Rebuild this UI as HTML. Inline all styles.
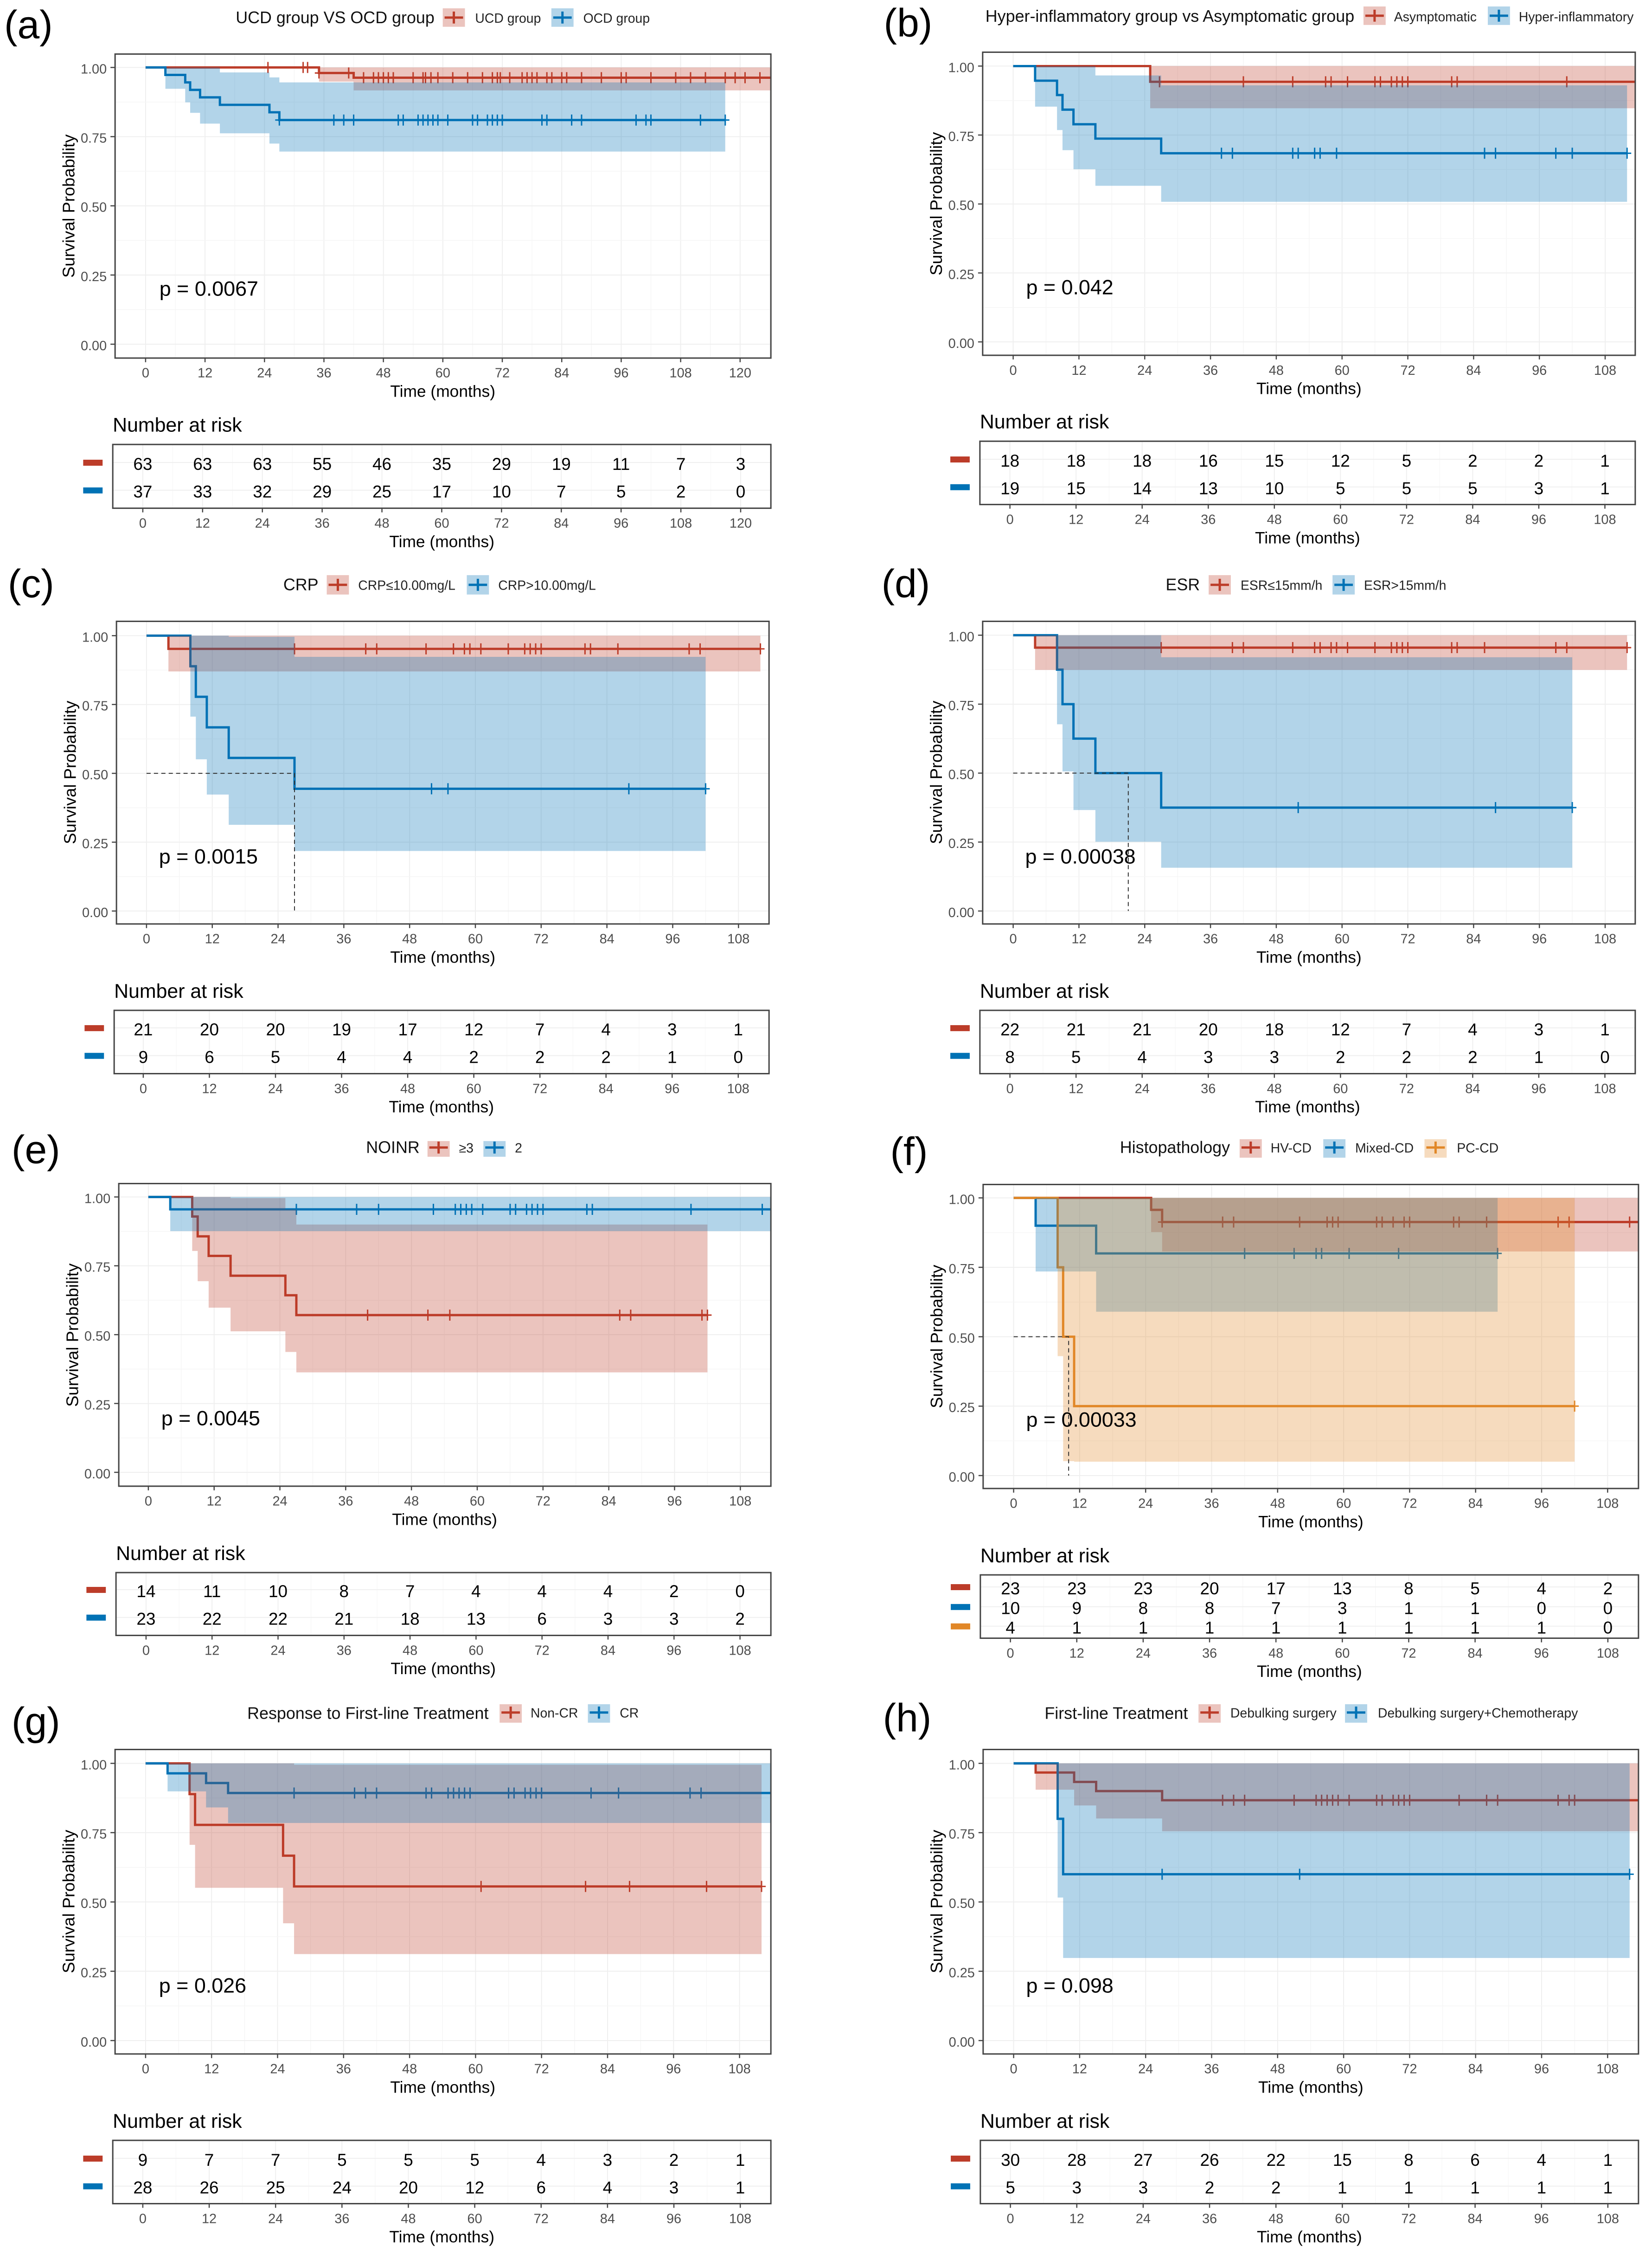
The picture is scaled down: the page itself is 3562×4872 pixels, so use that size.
<!DOCTYPE html>
<html lang="en">
<head>
<meta charset="utf-8">
<title>Kaplan-Meier survival panels</title>
<style>
html,body{margin:0;padding:0;background:#fff}
svg{display:block}
text{font-family:"Liberation Sans","Noto Sans CJK SC",sans-serif;fill:#000}
.lt{font-size:36px;fill:#111}
.ll{font-size:28.5px;fill:#222}
.at{font-size:35.5px;fill:#000}
.yt{font-size:36.5px;fill:#000}
.rt{font-size:43px;fill:#000}
.pv{font-size:45px;fill:#000}
.pl{font-size:86px;fill:#000}
</style>
</head>
<body>
<svg id="figure" xmlns="http://www.w3.org/2000/svg" width="3562" height="4872" viewBox="0 0 3562 4872">
<rect width="3562" height="4872" fill="#fff"/>

<g id="panel-a" transform="translate(0 0) scale(.9965 .996)">
<g id="marks-a"></g>
<text class="pl" x="9" y="83">(a)</text>
<text class="lt" x="510" y="50">UCD group VS OCD group</text>
<g><rect x="958" y="18" width="48" height="40" fill="#BC3C29" opacity=".3"/><path d="M962 38H1002M982 25V51" stroke="#BC3C29" stroke-width="5" fill="none"/></g>
<text class="ll" x="1028" y="49">UCD group</text>
<g><rect x="1193" y="18" width="48" height="40" fill="#0072B5" opacity=".3"/><path d="M1197 38H1237M1217 25V51" stroke="#0072B5" stroke-width="5" fill="none"/></g>
<text class="ll" x="1262" y="49">OCD group</text>
<text class="pv" x="345" y="640">p = 0.0067</text>
<text class="yt" x="161" y="446" text-anchor="middle" transform="rotate(-90 161 446)">Survival Probability</text>
<text class="at" x="958" y="859" text-anchor="middle">Time (months)</text>
<text class="rt" x="244" y="934">Number at risk</text>
<text class="at" x="956" y="1184" text-anchor="middle">Time (months)</text>
</g>

<g id="panel-b" transform="translate(1781 0) scale(.9965 .996) translate(-1781 0)">
<g id="marks-b"></g>
<text class="pl" x="1906" y="79">(b)</text>
<text class="lt" x="2126" y="47">Hyper-inflammatory group vs Asymptomatic group</text>
<g><rect x="2944" y="14" width="48" height="40" fill="#BC3C29" opacity=".3"/><path d="M2948 34H2988M2968 21V47" stroke="#BC3C29" stroke-width="5" fill="none"/></g>
<text class="ll" x="3010" y="46">Asymptomatic</text>
<g><rect x="3213" y="14" width="48" height="40" fill="#0072B5" opacity=".3"/><path d="M3217 34H3257M3237 21V47" stroke="#0072B5" stroke-width="5" fill="none"/></g>
<text class="ll" x="3280" y="46">Hyper-inflammatory</text>
<text class="pv" x="2214" y="637">p = 0.042</text>
<text class="yt" x="2032" y="441" text-anchor="middle" transform="rotate(-90 2032 441)">Survival Probability</text>
<text class="at" x="2826" y="853" text-anchor="middle">Time (months)</text>
<text class="rt" x="2114" y="927">Number at risk</text>
<text class="at" x="2823" y="1176" text-anchor="middle">Time (months)</text>
</g>

<g id="panel-c" transform="translate(0 1200) scale(.9965 .996) translate(0 -1200)">
<g id="marks-c"></g>
<text class="pl" x="17" y="1288">(c)</text>
<text class="lt" x="613" y="1273">CRP</text>
<g><rect x="707" y="1240" width="48" height="42" fill="#BC3C29" opacity=".3"/><path d="M711 1261H751M731 1248V1274" stroke="#BC3C29" stroke-width="5" fill="none"/></g>
<text class="ll" x="775" y="1272">CRP≤10.00mg/L</text>
<g><rect x="1010" y="1240" width="48" height="42" fill="#0072B5" opacity=".3"/><path d="M1014 1261H1054M1034 1248V1274" stroke="#0072B5" stroke-width="5" fill="none"/></g>
<text class="ll" x="1078" y="1272">CRP&gt;10.00mg/L</text>
<text class="pv" x="344" y="1864">p = 0.0015</text>
<text class="yt" x="164" y="1667" text-anchor="middle" transform="rotate(-90 164 1667)">Survival Probability</text>
<text class="at" x="958" y="2079" text-anchor="middle">Time (months)</text>
<text class="rt" x="247" y="2155">Number at risk</text>
<text class="at" x="955" y="2403" text-anchor="middle">Time (months)</text>
</g>

<g id="panel-d" transform="translate(1781 1200) scale(.9965 .996) translate(-1781 -1200)">
<g id="marks-d"></g>
<text class="pl" x="1901" y="1288">(d)</text>
<text class="lt" x="2516" y="1273">ESR</text>
<g><rect x="2609" y="1240" width="48" height="42" fill="#BC3C29" opacity=".3"/><path d="M2613 1261H2653M2633 1248V1274" stroke="#BC3C29" stroke-width="5" fill="none"/></g>
<text class="ll" x="2678" y="1272">ESR≤15mm/h</text>
<g><rect x="2877" y="1240" width="48" height="42" fill="#0072B5" opacity=".3"/><path d="M2881 1261H2921M2901 1248V1274" stroke="#0072B5" stroke-width="5" fill="none"/></g>
<text class="ll" x="2945" y="1272">ESR&gt;15mm/h</text>
<text class="pv" x="2212" y="1864">p = 0.00038</text>
<text class="yt" x="2032" y="1667" text-anchor="middle" transform="rotate(-90 2032 1667)">Survival Probability</text>
<text class="at" x="2826" y="2079" text-anchor="middle">Time (months)</text>
<text class="rt" x="2114" y="2155">Number at risk</text>
<text class="at" x="2823" y="2403" text-anchor="middle">Time (months)</text>
</g>

<g id="panel-e" transform="translate(0 2420) scale(.9965 .996) translate(0 -2420)">
<g id="marks-e"></g>
<text class="pl" x="25" y="2508">(e)</text>
<text class="lt" x="792" y="2486">NOINR</text>
<g><rect x="925" y="2460" width="48" height="34" fill="#BC3C29" opacity=".3"/><path d="M929 2474H969M949 2461V2487" stroke="#BC3C29" stroke-width="5" fill="none"/></g>
<text class="ll" x="993" y="2485">≥3</text>
<g><rect x="1046" y="2460" width="48" height="34" fill="#0072B5" opacity=".3"/><path d="M1050 2474H1090M1070 2461V2487" stroke="#0072B5" stroke-width="5" fill="none"/></g>
<text class="ll" x="1114" y="2485">2</text>
<text class="pv" x="349" y="3075">p = 0.0045</text>
<text class="yt" x="169" y="2880" text-anchor="middle" transform="rotate(-90 169 2880)">Survival Probability</text>
<text class="at" x="962" y="3291" text-anchor="middle">Time (months)</text>
<text class="rt" x="251" y="3367">Number at risk</text>
<text class="at" x="959" y="3614" text-anchor="middle">Time (months)</text>
</g>

<g id="panel-f" transform="translate(1781 2420) scale(.9965 .996) translate(-1781 -2420)">
<g id="marks-f"></g>
<text class="pl" x="1920" y="2512">(f)</text>
<text class="lt" x="2417" y="2486">Histopathology</text>
<g><rect x="2676" y="2456" width="48" height="40" fill="#BC3C29" opacity=".3"/><path d="M2680 2474H2720M2700 2461V2487" stroke="#BC3C29" stroke-width="5" fill="none"/></g>
<text class="ll" x="2743" y="2485">HV-CD</text>
<g><rect x="2857" y="2456" width="48" height="40" fill="#0072B5" opacity=".3"/><path d="M2861 2474H2901M2881 2461V2487" stroke="#0072B5" stroke-width="5" fill="none"/></g>
<text class="ll" x="2926" y="2485">Mixed-CD</text>
<g><rect x="3076" y="2456" width="48" height="40" fill="#E18727" opacity=".3"/><path d="M3080 2474H3120M3100 2461V2487" stroke="#E18727" stroke-width="5" fill="none"/></g>
<text class="ll" x="3146" y="2485">PC-CD</text>
<text class="pv" x="2214" y="3078">p = 0.00033</text>
<text class="yt" x="2033" y="2883" text-anchor="middle" transform="rotate(-90 2033 2883)">Survival Probability</text>
<text class="at" x="2830" y="3296" text-anchor="middle">Time (months)</text>
<text class="rt" x="2115" y="3372">Number at risk</text>
<text class="at" x="2827" y="3620" text-anchor="middle">Time (months)</text>
</g>

<g id="panel-g" transform="translate(0 3640) scale(.9965 .996) translate(0 -3640)">
<g id="marks-g"></g>
<text class="pl" x="25" y="3741">(g)</text>
<text class="lt" x="535" y="3706">Response to First-line Treatment</text>
<g><rect x="1081" y="3674" width="48" height="40" fill="#BC3C29" opacity=".3"/><path d="M1085 3692H1125M1105 3679V3705" stroke="#BC3C29" stroke-width="5" fill="none"/></g>
<text class="ll" x="1148" y="3703">Non-CR</text>
<g><rect x="1272" y="3674" width="48" height="40" fill="#0072B5" opacity=".3"/><path d="M1276 3692H1316M1296 3679V3705" stroke="#0072B5" stroke-width="5" fill="none"/></g>
<text class="ll" x="1341" y="3703">CR</text>
<text class="pv" x="344" y="4298">p = 0.026</text>
<text class="yt" x="161" y="4101" text-anchor="middle" transform="rotate(-90 161 4101)">Survival Probability</text>
<text class="at" x="958" y="4515" text-anchor="middle">Time (months)</text>
<text class="rt" x="244" y="4591">Number at risk</text>
<text class="at" x="956" y="4839" text-anchor="middle">Time (months)</text>
</g>

<g id="panel-h" transform="translate(1781 3640) scale(.9965 .996) translate(-1781 -3640)">
<g id="marks-h"></g>
<text class="pl" x="1904" y="3733">(h)</text>
<text class="lt" x="2254" y="3706">First-line Treatment</text>
<g><rect x="2587" y="3674" width="48" height="40" fill="#BC3C29" opacity=".3"/><path d="M2591 3692H2631M2611 3679V3705" stroke="#BC3C29" stroke-width="5" fill="none"/></g>
<text class="ll" x="2656" y="3703">Debulking surgery</text>
<g><rect x="2904" y="3674" width="48" height="40" fill="#0072B5" opacity=".3"/><path d="M2908 3692H2948M2928 3679V3705" stroke="#0072B5" stroke-width="5" fill="none"/></g>
<text class="ll" x="2975" y="3703">Debulking surgery+Chemotherapy</text>
<text class="pv" x="2214" y="4298">p = 0.098</text>
<text class="yt" x="2033" y="4101" text-anchor="middle" transform="rotate(-90 2033 4101)">Survival Probability</text>
<text class="at" x="2830" y="4515" text-anchor="middle">Time (months)</text>
<text class="rt" x="2115" y="4591">Number at risk</text>
<text class="at" x="2827" y="4839" text-anchor="middle">Time (months)</text>
</g>
</svg>

<script>
// ---- shared tick labels ----
const yTicks = [0, 0.25, 0.5, 0.75, 1];
const xTicks120 = [0, 12, 24, 36, 48, 60, 72, 84, 96, 108, 120];
const xTicks108 = [0, 12, 24, 36, 48, 60, 72, 84, 96, 108];

// ---- panel a ----
const aUcdTimes = [35, 42];
const aUcdSurv = [0.98, 0.963];
const aUcdLower = [0.949, 0.917];
const aUcdUpper = [1, 1];
const aUcdEnd = 130;
const aUcdCensor = [24.7, 31.8, 32.7, 35, 41, 44, 46, 47, 48, 49, 50, 54, 56, 56.5, 57.6, 59, 62, 65, 68, 70, 71, 71.6, 73.5, 76, 77, 78, 79, 81, 82, 84, 85, 88, 92, 96, 97, 102, 107, 110, 113, 117, 119, 121, 124];
const aOcdTimes = [4, 8, 9, 11, 15, 25, 27];
const aOcdSurv = [0.973, 0.946, 0.919, 0.892, 0.865, 0.838, 0.81];
const aOcdLower = [0.923, 0.874, 0.836, 0.797, 0.762, 0.725, 0.696];
const aOcdUpper = [1, 1, 1, 1, 0.982, 0.964, 0.946];
const aOcdEnd = 117;
const aOcdCensor = [27, 38, 40, 42, 51, 52, 55, 56, 57, 58, 59, 61, 66, 67, 69, 70, 71, 72, 80, 81, 86, 88, 99, 101, 102, 112, 117];
const aRiskUcd = [63, 63, 63, 55, 46, 35, 29, 19, 11, 7, 3];
const aRiskOcd = [37, 33, 32, 29, 25, 17, 10, 7, 5, 2, 0];

// ---- panel b ----
const bAsymTimes = [25];
const bAsymSurv = [0.943];
const bAsymLower = [0.847];
const bAsymUpper = [1];
const bAsymEnd = 118;
const bAsymCensor = [26.7, 42, 51, 57, 58, 61, 66, 67, 69, 70, 71, 72, 80, 81, 101];
const bHyperTimes = [4, 8, 9, 11, 15, 27];
const bHyperSurv = [0.947, 0.895, 0.842, 0.789, 0.737, 0.684];
const bHyperLower = [0.853, 0.768, 0.695, 0.626, 0.566, 0.508];
const bHyperUpper = [1, 1, 1, 1, 0.966, 0.93];
const bHyperEnd = 112;
const bHyperCensor = [38, 40, 51, 52, 55, 56, 59, 86, 88, 99, 102, 112];
const bRiskAsym = [18, 18, 18, 16, 15, 12, 5, 2, 2, 1];
const bRiskHyper = [19, 15, 14, 13, 10, 5, 5, 5, 3, 1];

// ---- panel c ----
const cLowTimes = [4];
const cLowSurv = [0.952];
const cLowLower = [0.87];
const cLowUpper = [1];
const cLowEnd = 112;
const cLowCensor = [27, 40, 42, 51, 56, 58, 59, 61, 66, 69, 70, 71, 72, 80, 81, 86, 99, 101, 112];
const cHighTimes = [8, 9, 11, 15, 27];
const cHighSurv = [0.889, 0.778, 0.667, 0.556, 0.444];
const cHighLower = [0.706, 0.551, 0.423, 0.313, 0.218];
const cHighUpper = [1, 1, 1, 0.996, 0.923];
const cHighEnd = 102;
const cHighCensor = [52, 55, 88, 102];
const cMedian = 27;
const cRiskLow = [21, 20, 20, 19, 17, 12, 7, 4, 3, 1];
const cRiskHigh = [9, 6, 5, 4, 4, 2, 2, 2, 1, 0];

// ---- panel d ----
const dLowTimes = [4];
const dLowSurv = [0.955];
const dLowLower = [0.874];
const dLowUpper = [1];
const dLowEnd = 112;
const dLowCensor = [27, 40, 42, 51, 55, 56, 58, 59, 61, 66, 69, 70, 71, 72, 80, 81, 86, 99, 101, 112];
const dHighTimes = [8, 9, 11, 15, 27];
const dHighSurv = [0.875, 0.75, 0.625, 0.5, 0.375];
const dHighLower = [0.677, 0.506, 0.366, 0.251, 0.157];
const dHighUpper = [1, 1, 1, 1, 0.92];
const dHighEnd = 102;
const dHighCensor = [52, 88, 102];
const dMedian = 21;
const dRiskLow = [22, 21, 21, 20, 18, 12, 7, 4, 3, 1];
const dRiskHigh = [8, 5, 4, 3, 3, 2, 2, 2, 1, 0];

// ---- panel e ----
const eHighTimes = [8, 9, 11, 15, 25, 27];
const eHighSurv = [0.929, 0.857, 0.786, 0.714, 0.643, 0.571];
const eHighLower = [0.804, 0.694, 0.598, 0.512, 0.437, 0.363];
const eHighUpper = [1, 1, 1, 0.996, 0.955, 0.9];
const eHighEnd = 102;
const eHighCensor = [40, 51, 55, 86, 88, 101, 102];
const eLowTimes = [4];
const eLowSurv = [0.955];
const eLowLower = [0.876];
const eLowUpper = [1];
const eLowEnd = 118;
const eLowCensor = [27, 38, 42, 52, 56, 57, 58, 59, 61, 66, 67, 69, 70, 71, 72, 80, 81, 99, 112];
const eRiskHigh = [14, 11, 10, 8, 7, 4, 4, 4, 2, 0];
const eRiskLow = [23, 22, 22, 21, 18, 13, 6, 3, 3, 2];

// ---- panel f ----
const fHvTimes = [25, 27];
const fHvSurv = [0.957, 0.913];
const fHvLower = [0.877, 0.807];
const fHvUpper = [1, 1];
const fHvEnd = 118;
const fHvCensor = [27, 38, 40, 52, 57, 58, 59, 66, 67, 69, 71, 72, 80, 81, 86, 99, 101, 112];
const fMixedTimes = [4, 15];
const fMixedSurv = [0.9, 0.8];
const fMixedLower = [0.735, 0.59];
const fMixedUpper = [1, 1];
const fMixedEnd = 88;
const fMixedCensor = [42, 51, 55, 56, 61, 70, 88];
const fPcTimes = [8, 9, 11];
const fPcSurv = [0.75, 0.5, 0.25];
const fPcLower = [0.43, 0.052, 0.05];
const fPcUpper = [1, 1, 1];
const fPcEnd = 102;
const fPcCensor = [102];
const fMedian = 10;
const fRiskHv = [23, 23, 23, 20, 17, 13, 8, 5, 4, 2];
const fRiskMixed = [10, 9, 8, 8, 7, 3, 1, 1, 0, 0];
const fRiskPc = [4, 1, 1, 1, 1, 1, 1, 1, 1, 0];

// ---- panel g ----
const gNonTimes = [8, 9, 25, 27];
const gNonSurv = [0.889, 0.778, 0.667, 0.556];
const gNonLower = [0.706, 0.551, 0.423, 0.312];
const gNonUpper = [1, 1, 1, 0.995];
const gNonEnd = 112;
const gNonCensor = [61, 80, 88, 102, 112];
const gCrTimes = [4, 11, 15];
const gCrSurv = [0.964, 0.929, 0.893];
const gCrLower = [0.899, 0.841, 0.785];
const gCrUpper = [1, 1, 1];
const gCrEnd = 118;
const gCrCensor = [27, 38, 40, 42, 51, 52, 55, 56, 57, 58, 59, 66, 67, 69, 70, 71, 72, 81, 86, 99, 101];
const gRiskNon = [9, 7, 7, 5, 5, 5, 4, 3, 2, 1];
const gRiskCr = [28, 26, 25, 24, 20, 12, 6, 4, 3, 1];

// ---- panel h ----
const hDebTimes = [4, 11, 15, 27];
const hDebSurv = [0.967, 0.933, 0.9, 0.867];
const hDebLower = [0.905, 0.848, 0.801, 0.755];
const hDebUpper = [1, 1, 1, 1];
const hDebEnd = 118;
const hDebCensor = [38, 40, 42, 51, 55, 56, 57, 58, 59, 61, 66, 67, 69, 70, 71, 72, 81, 86, 88, 99, 101, 102];
const hChemoTimes = [8, 9];
const hChemoSurv = [0.8, 0.6];
const hChemoLower = [0.516, 0.298];
const hChemoUpper = [1, 1];
const hChemoEnd = 112;
const hChemoCensor = [27, 52, 112];
const hRiskDeb = [30, 28, 27, 26, 22, 15, 8, 6, 4, 1];
const hRiskChemo = [5, 3, 3, 2, 2, 1, 1, 1, 1, 1];

// ---- colours ----
const RED = '#BC3C29', BLUE = '#0072B5', ORANGE = '#E18727';

function series(key, color, times, surv, lower, upper, end, censor, risk) {
  return {key, color, times, surv, lower, upper, end, censor, risk};
}

// Layout only (frame geometry); every mark position comes from the scales.
const panels = [
  {id:'a', left:249, right:1668, top:117, bottom:775, yOne:146, yZero:745, xZero:315, xStep:10.72,
   rLeft:244, rTop:962, rBottom:1100, rZero:309, rStep:10.78, rows:[1004,1064], ticks:xTicks120, median:null,
   series:[series('ucd',RED,aUcdTimes,aUcdSurv,aUcdLower,aUcdUpper,aUcdEnd,aUcdCensor,aRiskUcd),
           series('ocd',BLUE,aOcdTimes,aOcdSurv,aOcdLower,aOcdUpper,aOcdEnd,aOcdCensor,aRiskOcd)]},
  {id:'b', left:2120, right:3532, top:113, bottom:769, yOne:143, yZero:740, xZero:2186, xStep:11.86,
   rLeft:2114, rTop:955, rBottom:1092, rZero:2179, rStep:11.92, rows:[997,1057], ticks:xTicks108, median:null,
   series:[series('asymptomatic',RED,bAsymTimes,bAsymSurv,bAsymLower,bAsymUpper,bAsymEnd,bAsymCensor,bRiskAsym),
           series('hyper-inflammatory',BLUE,bHyperTimes,bHyperSurv,bHyperLower,bHyperUpper,bHyperEnd,bHyperCensor,bRiskHyper)]},
  {id:'c', left:252, right:1664, top:1340, bottom:1995, yOne:1371, yZero:1967, xZero:317, xStep:11.86,
   rLeft:247, rTop:2182, rBottom:2319, rZero:310, rStep:11.92, rows:[2223,2283], ticks:xTicks108, median:cMedian,
   series:[series('crp-low',RED,cLowTimes,cLowSurv,cLowLower,cLowUpper,cLowEnd,cLowCensor,cRiskLow),
           series('crp-high',BLUE,cHighTimes,cHighSurv,cHighLower,cHighUpper,cHighEnd,cHighCensor,cRiskHigh)]},
  {id:'d', left:2120, right:3532, top:1340, bottom:1995, yOne:1370, yZero:1967, xZero:2186, xStep:11.86,
   rLeft:2114, rTop:2182, rBottom:2319, rZero:2179, rStep:11.92, rows:[2223,2283], ticks:xTicks108, median:dMedian,
   series:[series('esr-low',RED,dLowTimes,dLowSurv,dLowLower,dLowUpper,dLowEnd,dLowCensor,dRiskLow),
           series('esr-high',BLUE,dHighTimes,dHighSurv,dHighLower,dHighUpper,dHighEnd,dHighCensor,dRiskHigh)]},
  {id:'e', left:257, right:1668, top:2552, bottom:3207, yOne:2581, yZero:3177, xZero:321, xStep:11.86,
   rLeft:251, rTop:3394, rBottom:3530, rZero:316, rStep:11.9, rows:[3434,3494], ticks:xTicks108, median:null,
   series:[series('noinr-3',RED,eHighTimes,eHighSurv,eHighLower,eHighUpper,eHighEnd,eHighCensor,eRiskHigh),
           series('noinr-2',BLUE,eLowTimes,eLowSurv,eLowLower,eLowUpper,eLowEnd,eLowCensor,eRiskLow)]},
  {id:'f', left:2121, right:3539, top:2554, bottom:3212, yOne:2583, yZero:3184, xZero:2187, xStep:11.9,
   rLeft:2115, rTop:3399, rBottom:3536, rZero:2180, rStep:11.97, rows:[3428,3471,3513], ticks:xTicks108, median:fMedian,
   series:[series('hv-cd',RED,fHvTimes,fHvSurv,fHvLower,fHvUpper,fHvEnd,fHvCensor,fRiskHv),
           series('mixed-cd',BLUE,fMixedTimes,fMixedSurv,fMixedLower,fMixedUpper,fMixedEnd,fMixedCensor,fRiskMixed),
           series('pc-cd',ORANGE,fPcTimes,fPcSurv,fPcLower,fPcUpper,fPcEnd,fPcCensor,fRiskPc)]},
  {id:'g', left:249, right:1668, top:3772, bottom:4431, yOne:3802, yZero:4402, xZero:315, xStep:11.9,
   rLeft:244, rTop:4618, rBottom:4755, rZero:309, rStep:11.97, rows:[4660,4720], ticks:xTicks108, median:null,
   series:[series('non-cr',RED,gNonTimes,gNonSurv,gNonLower,gNonUpper,gNonEnd,gNonCensor,gRiskNon),
           series('cr',BLUE,gCrTimes,gCrSurv,gCrLower,gCrUpper,gCrEnd,gCrCensor,gRiskCr)]},
  {id:'h', left:2121, right:3539, top:3772, bottom:4431, yOne:3802, yZero:4402, xZero:2187, xStep:11.9,
   rLeft:2115, rTop:4618, rBottom:4755, rZero:2180, rStep:11.97, rows:[4660,4720], ticks:xTicks108, median:null,
   series:[series('debulking',RED,hDebTimes,hDebSurv,hDebLower,hDebUpper,hDebEnd,hDebCensor,hRiskDeb),
           series('debulking-chemo',BLUE,hChemoTimes,hChemoSurv,hChemoLower,hChemoUpper,hChemoEnd,hChemoCensor,hRiskChemo)]}
];

const NS = 'http://www.w3.org/2000/svg';
function mk(tag, attrs, parent) {
  const n = document.createElementNS(NS, tag);
  for (const k in attrs) n.setAttribute(k, attrs[k]);
  parent.appendChild(n);
  return n;
}

function survAt(s, t) {
  let v = 1;
  for (let i = 0; i < s.times.length; i++) if (s.times[i] <= t) v = s.surv[i];
  return v;
}

function drawPanel(p) {
  const g = document.getElementById('marks-' + p.id);
  const X = t => p.xZero + t * p.xStep;
  const Y = s => p.yZero + (p.yOne - p.yZero) * s;
  const RX = t => p.rZero + t * p.rStep;

  const defs = mk('defs', {}, g);
  const clip = mk('clipPath', {id: 'clip-' + p.id}, defs);
  mk('rect', {x: p.left, y: p.top, width: p.right - p.left, height: p.bottom - p.top}, clip);

  // gridlines
  for (let m = -6; m <= 126; m += 6) {
    const gx = X(m);
    if (gx <= p.left || gx >= p.right) continue;
    const gl = mk('line', {x1: gx, x2: gx, y1: p.top, y2: p.bottom, stroke: m % 12 === 0 ? '#efefef' : '#f6f6f6', 'stroke-width': m % 12 === 0 ? 2 : 1.5}, g);
    
    
    const rx = RX(m);
    if (rx <= p.rLeft || rx >= p.right) continue;
    const rl = mk('line', {x1: rx, x2: rx, y1: p.rTop, y2: p.rBottom, stroke: m % 12 === 0 ? '#efefef' : '#f8f8f8', 'stroke-width': m % 12 === 0 ? 2 : 1.5}, g);
    
    
  }
  for (let v = 0; v <= 1.0001; v += 0.125) {
    const gy = Y(v);
    const major = Math.abs(v * 4 - Math.round(v * 4)) < 1e-6;
    const gl = mk('line', {x1: p.left, x2: p.right, y1: gy, y2: gy, stroke: major ? '#efefef' : '#f6f6f6', 'stroke-width': major ? 2 : 1.5}, g);
    
    
  }
  p.rows.forEach(ry => {
    const rl = mk('line', {x1: p.rLeft, x2: p.right, y1: ry - 3, y2: ry - 3, stroke: '#efefef', 'stroke-width': 2}, g);
    
    
  });

  const plot = mk('g', {'clip-path': 'url(#clip-' + p.id + ')'}, g);
  
  

  // step lines and censor marks sit under the ribbons
  p.series.forEach(s => {
    let d = 'M' + X(0) + ' ' + Y(1);
    s.times.forEach((t, i) => { d += 'H' + X(t) + 'V' + Y(s.surv[i]); });
    d += 'H' + X(s.end);
    const line = mk('path', {d: d, fill: 'none', stroke: s.color, 'stroke-width': 5, 'stroke-linejoin': 'miter'}, plot);
    
    
    s.censor.forEach(t => {
      const cx = X(t), cy = Y(survAt(s, t));
      const c = mk('path', {d: 'M' + cx + ' ' + (cy - 12) + 'V' + (cy + 12) + 'M' + (cx - 9) + ' ' + cy + 'H' + (cx + 9), fill: 'none', stroke: s.color, 'stroke-width': 3}, plot);
      
      
    });
  });

  // confidence ribbons
  p.series.forEach(s => {
    const n = s.times.length;
    let d = 'M' + X(s.times[0]) + ' ' + Y(s.upper[0]);
    for (let i = 1; i < n; i++) d += 'H' + X(s.times[i]) + 'V' + Y(s.upper[i]);
    d += 'H' + X(s.end) + 'V' + Y(s.lower[n - 1]);
    for (let i = n - 1; i > 0; i--) d += 'H' + X(s.times[i]) + 'V' + Y(s.lower[i - 1]);
    d += 'H' + X(s.times[0]) + 'Z';
    const rib = mk('path', {d: d, fill: s.color, 'fill-opacity': 0.3}, plot);
    
    
  });

  // median reference lines
  if (p.median !== null) {
    const mh = mk('path', {d: 'M' + X(0) + ' ' + Y(0.5) + 'H' + X(p.median) + 'V' + Y(0), fill: 'none', stroke: '#333', 'stroke-width': 2, 'stroke-dasharray': '9 7'}, plot);
    
    
  }

  // plot frame
  const frame = mk('rect', {x: p.left, y: p.top, width: p.right - p.left, height: p.bottom - p.top, fill: 'none', stroke: '#444', 'stroke-width': 3}, g);
  
  

  // y axis
  yTicks.forEach(v => {
    const ty = Y(v);
    const tk = mk('line', {x1: p.left - 10, x2: p.left, y1: ty, y2: ty, stroke: '#444', 'stroke-width': 2.5}, g);
    
    
    const lb = mk('text', {x: p.left - 18, y: ty + 13, 'text-anchor': 'end', 'font-size': 29, style: 'fill:#4d4d4d'}, g);
    
    
    lb.textContent = v.toFixed(2);
  });

  // x axis
  p.ticks.forEach(t => {
    const tx = X(t);
    const tk = mk('line', {x1: tx, x2: tx, y1: p.bottom, y2: p.bottom + 9, stroke: '#444', 'stroke-width': 2.5}, g);
    
    
    const lb = mk('text', {x: tx, y: p.bottom + 42, 'text-anchor': 'middle', 'font-size': 29, style: 'fill:#4d4d4d'}, g);
    
    
    lb.textContent = t;
  });

  // risk table
  const rFrame = mk('rect', {x: p.rLeft, y: p.rTop, width: p.right - p.rLeft, height: p.rBottom - p.rTop, fill: 'none', stroke: '#444', 'stroke-width': 3}, g);
  
  
  p.ticks.forEach(t => {
    const tx = RX(t);
    const tk = mk('line', {x1: tx, x2: tx, y1: p.rBottom, y2: p.rBottom + 9, stroke: '#444', 'stroke-width': 2.5}, g);
    
    
    const lb = mk('text', {x: tx, y: p.rBottom + 42, 'text-anchor': 'middle', 'font-size': 29, style: 'fill:#4d4d4d'}, g);
    
    
    lb.textContent = t;
  });
  p.series.forEach((s, row) => {
    const ry = p.rows[row];
    const sw = mk('rect', {x: p.rLeft - 64, y: ry - 9, width: 42, height: 13, fill: s.color}, g);
    
    
    s.risk.forEach((v, i) => {
      const c = mk('text', {x: RX(p.ticks[i]), y: ry + 13, 'text-anchor': 'middle', 'font-size': 37}, g);
      
      
      c.textContent = v;
    });
  });
}

panels.forEach(drawPanel);
</script>
</body>
</html>
